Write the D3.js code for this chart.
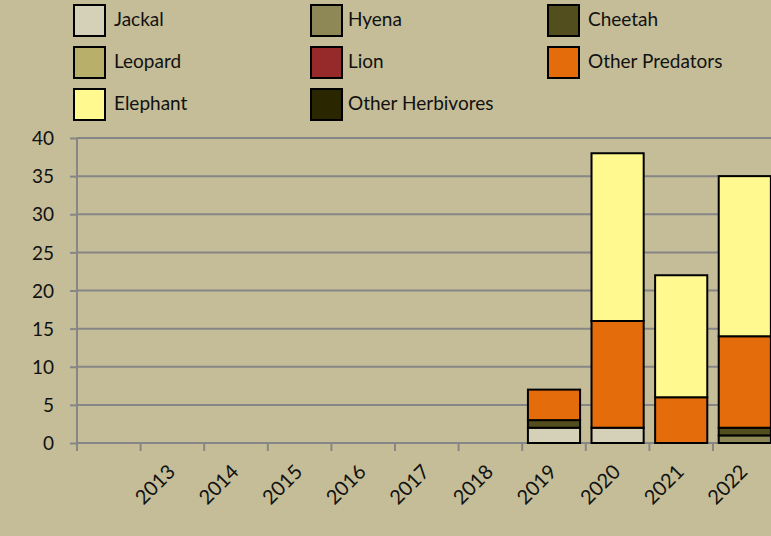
<!DOCTYPE html>
<html><head><meta charset="utf-8">
<script src="https://cdn.jsdelivr.net/npm/d3@7"></script>
<style>
html,body{margin:0;padding:0;background:#c4bd97;}
svg{display:block;font-family:Lato,"Open Sans",sans-serif;}
</style></head>
<body><svg id="c" width="771" height="536"></svg>
<script>
const categories = ["", "2013","2014","2015","2016","2017","2018","2019","2020","2021","2022"];
const seriesNames = ["Jackal","Hyena","Cheetah","Leopard","Lion","Other Predators","Elephant","Other Herbivores"];
const seriesColors = ["#d5d0b8","#8d8856","#524e1e","#b8b06a","#962a2b","#e46c0a","#fff98f","#2a2700"];
const jackal          = [0,0,0,0,0,0,0,2,2,0,0];
const hyena           = [0,0,0,0,0,0,0,0,0,0,1];
const cheetah         = [0,0,0,0,0,0,0,1,0,0,1];
const leopard         = [0,0,0,0,0,0,0,0,0,0,0];
const lion            = [0,0,0,0,0,0,0,0,0,0,0];
const otherPredators  = [0,0,0,0,0,0,0,4,14,6,12];
const elephant        = [0,0,0,0,0,0,0,0,22,16,21];
const otherHerbivores = [0,0,0,0,0,0,0,0,0,0,0];
const yTicks = [0,5,10,15,20,25,30,35,40];

(function(){
const seriesValues = [jackal,hyena,cheetah,leopard,lion,otherPredators,elephant,otherHerbivores];
const rows = categories.map((c,i)=>{
  const r = {cat:c, idx:i};
  seriesNames.forEach((s,k)=>r[s]=seriesValues[k][i]);
  return r;
});
const FS = 19;
const svg = d3.select("#c");
const left = 77, bottom = 443, topY = 138;
const step = 63.6;
const x = d3.scaleBand().domain(d3.range(categories.length)).range([left, left+step*categories.length]).paddingInner(0.18).paddingOuter(0.09);
const y = d3.scaleLinear().domain([0,40]).range([bottom, topY]);

svg.append("g").selectAll("line").data(yTicks).join("line")
  .attr("x1",left).attr("x2",771).attr("y1",d=>y(d)).attr("y2",d=>y(d))
  .attr("stroke","#868686").attr("stroke-width",2);

const yAxis = d3.axisLeft(y).tickValues(yTicks).tickSize(7).tickPadding(16);
const gy = svg.append("g").attr("transform",`translate(${left},0)`).call(yAxis);
gy.select(".domain").attr("stroke","#868686").attr("stroke-width",2).attr("d",`M0,${topY}V${bottom}`);
gy.selectAll(".tick line").attr("stroke","#868686").attr("stroke-width",2);
gy.selectAll(".tick text").attr("font-size",FS).attr("fill","#111").attr("font-family","Lato, sans-serif").attr("dy","0.35em");

const bounds = d3.range(categories.length+1).map(i=>left+i*step);
svg.append("g").selectAll("line").data(bounds.filter(b=>b<771)).join("line")
  .attr("x1",d=>d).attr("x2",d=>d).attr("y1",bottom).attr("y2",bottom+8)
  .attr("stroke","#868686").attr("stroke-width",2);
svg.append("g").selectAll("text").data(categories).join("text")
  .attr("transform",(d,i)=>`translate(${x(i)+x.bandwidth()/2+4},${bottom+30}) rotate(-45)`)
  .attr("text-anchor","end")
  .attr("font-size",FS+1).attr("fill","#111").text(d=>d);

const stack = d3.stack().keys(seriesNames)(rows);
const gb = svg.append("g");
stack.forEach((layer,k)=>{
  gb.append("g").attr("fill",seriesColors[k]).selectAll("rect")
    .data(layer.filter(d=>d[1]-d[0]>0)).join("rect")
    .attr("x",d=>x(d.data.idx)).attr("width",x.bandwidth())
    .attr("y",d=>y(d[1])).attr("height",d=>y(d[0])-y(d[1]))
    .attr("stroke","#000").attr("stroke-width",2);
});

const colX = [74, 311, 548];
const textX = [114, 348, 588];
const rowY = [5, 47, 89];
const lg = svg.append("g");
seriesNames.forEach((s,k)=>{
  const c = k%3, r = Math.floor(k/3);
  lg.append("rect").attr("x",colX[c]).attr("y",rowY[r]).attr("width",31).attr("height",31)
    .attr("fill",seriesColors[k]).attr("stroke","#000").attr("stroke-width",2);
  lg.append("text").attr("x",textX[c]).attr("y",rowY[r]+14).attr("dy","0.35em")
    .attr("font-size",FS).attr("fill","#111").text(s);
});
})();
</script></body></html>
